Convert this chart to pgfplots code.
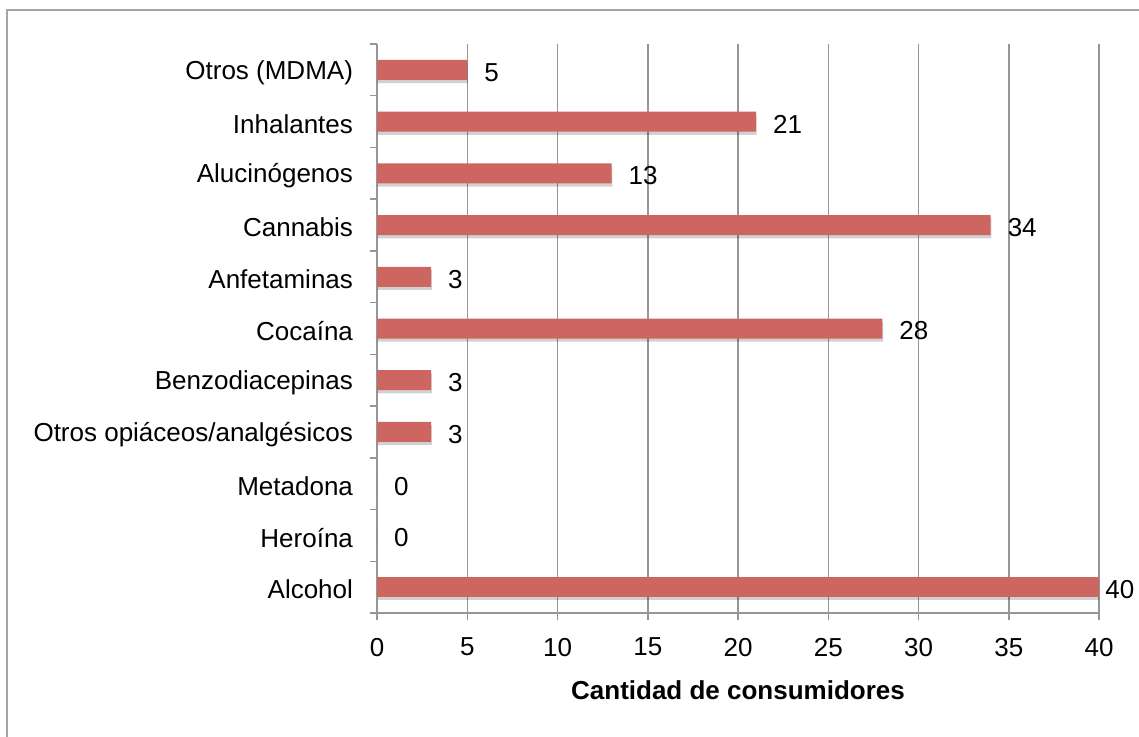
\documentclass[border=0pt]{standalone}
\usepackage{pgfplots}
\pgfplotsset{compat=1.18}
\usepackage{fontspec}
\setmainfont{Liberation Sans}
\usetikzlibrary{shadows}
\definecolor{barred}{RGB}{205,102,97}
\definecolor{gridgray}{RGB}{150,150,150}
\definecolor{framegray}{RGB}{165,165,165}

\begin{document}
\begin{tikzpicture}[font=\fontsize{13}{15.6}\selectfont]
\useasboundingbox (0,0) rectangle (569.5pt,368pt);
% outer chart frame
\draw[framegray, line width=1pt] (3.5pt,-2pt) -- (3.5pt,363pt) -- (572pt,363pt);
\begin{axis}[
  at={(188.5pt,61.5pt)}, anchor=south west,
  scale only axis, width=361pt, height=284.5pt,
  xbar, bar width=10pt, bar shift=0pt,
  xmin=0, xmax=40, ymin=-0.5, ymax=10.5,
  xtick={0,5,...,40},
  ytick={-0.5,0.5,...,10.5},
  yticklabels={Alcohol,Heroína,Metadona,Otros opiáceos/analgésicos,Benzodiacepinas,Cocaína,Anfetaminas,Cannabis,Alucinógenos,Inhalantes,Otros (MDMA),{}},
  yticklabel style={anchor=east, yshift=11.7pt, xshift=-5pt},
  xticklabel style={yshift=-5.5pt},
  axis lines*=left,
  axis line style={gridgray, line width=0.75pt},
  xmajorgrids, major grid style={gridgray, line width=0.75pt},
  tick align=outside, major tick length=3.5pt,
  tick style={gridgray, line width=0.75pt},
  /pgf/number format/assume math mode=true,
  xlabel={\textbf{Cantidad de consumidores}},
  xlabel style={at={(axis description cs:0.5,0)}, anchor=center, yshift=-38.5pt},
  nodes near coords,
  nodes near coords style={anchor=west, xshift=5pt, yshift=-1.2pt, text=black},
]
\addplot[fill=barred, draw=none,
  drop shadow={shadow xshift=0.3pt, shadow yshift=-1.6pt, opacity=0.18, fill=black}]
  coordinates {(0,1) (0,2) (3,3) (3,4) (28,5) (3,6) (34,7) (13,8) (21,9) (5,10)};
% the longest bar keeps its label closer so it stays inside the frame
\addplot[fill=barred, draw=none,
  nodes near coords style={xshift=-5.3pt},
  drop shadow={shadow xshift=0.3pt, shadow yshift=-1.6pt, opacity=0.18, fill=black}]
  coordinates {(40,0)};
\end{axis}
\end{tikzpicture}
\end{document}
